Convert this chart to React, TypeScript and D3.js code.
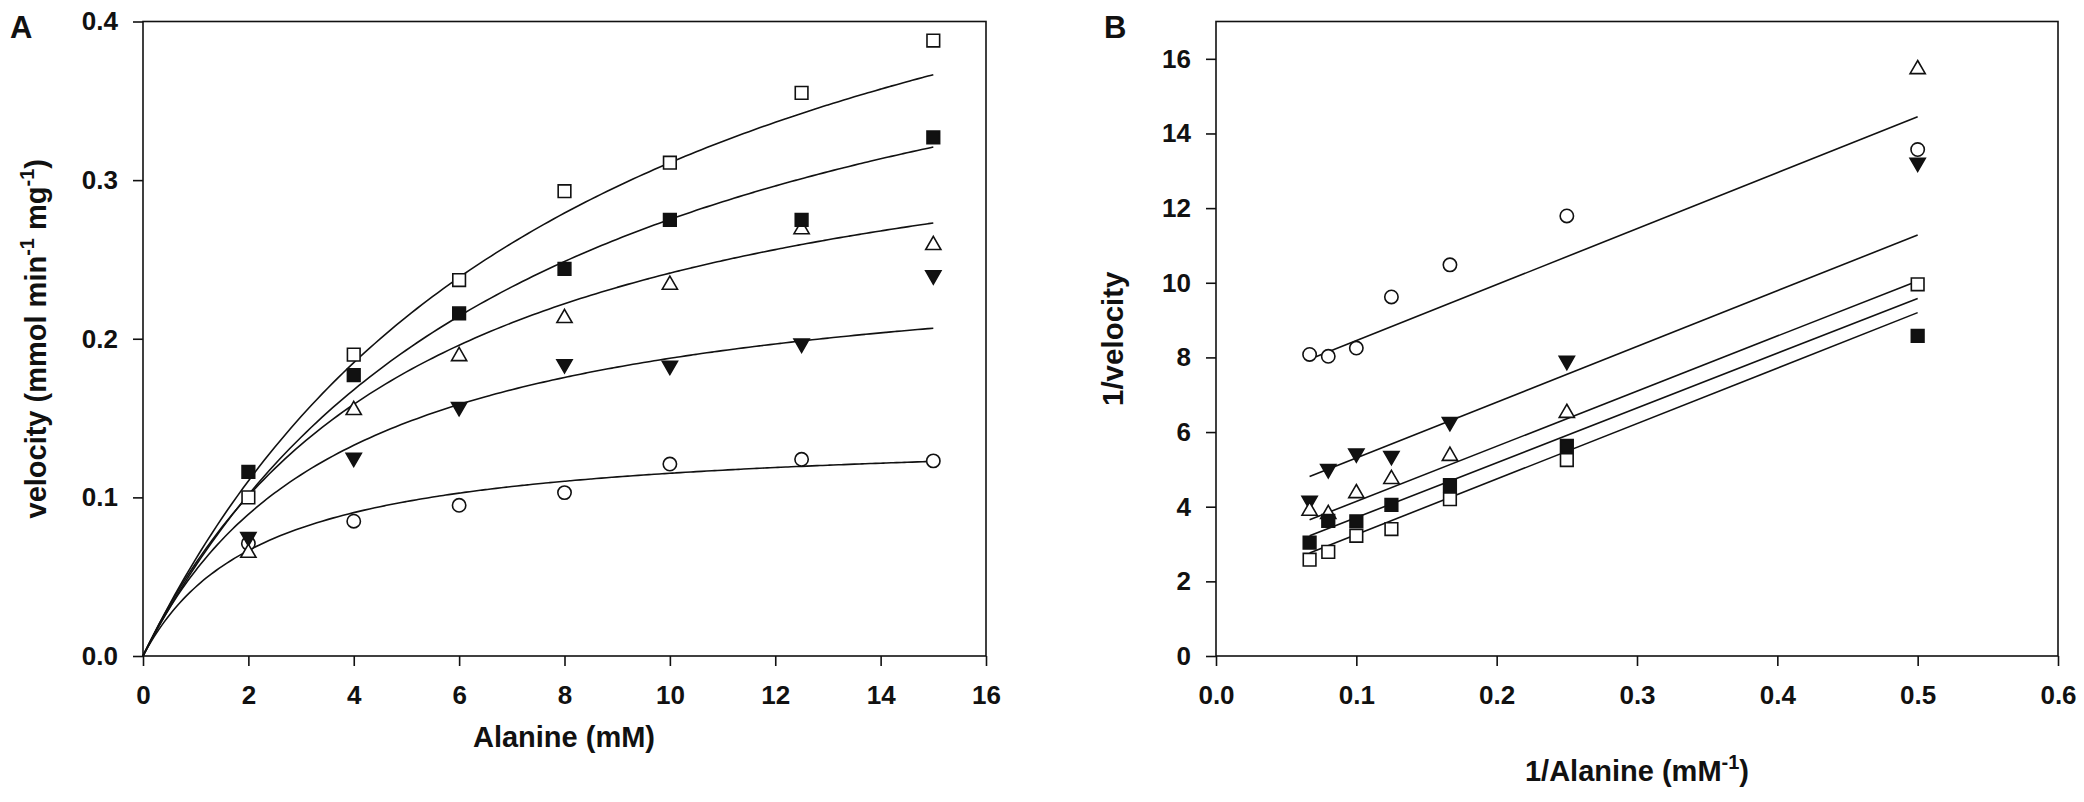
import React, { useEffect, useRef } from 'react'
import * as d3 from 'd3'

// alanine concentrations (mM) used in both panels
const alanine = [2, 4, 6, 8, 10, 12.5, 15]
const invAlanine = [0.0667, 0.08, 0.1, 0.125, 0.1667, 0.25, 0.5]

// panel A, velocity (mmol min-1 mg-1)
const velOpenSquare = [0.100, 0.190, 0.237, 0.293, 0.311, 0.355, 0.388]
const velFilledSquare = [0.116, 0.177, 0.216, 0.244, 0.275, 0.275, 0.327]
const velOpenTriangle = [0.065, 0.155, 0.189, 0.213, 0.234, 0.269, 0.259]
const velFilledTriangle = [0.075, 0.125, 0.157, 0.184, 0.183, 0.197, 0.240]
const velOpenCircle = [0.071, 0.085, 0.095, 0.103, 0.121, 0.124, 0.123]

// Michaelis-Menten fits: [Vmax, Km]
const fitOpenSquare = [0.570, 8.33]
const fitFilledSquare = [0.480, 7.44]
const fitOpenTriangle = [0.370, 5.33]
const fitFilledTriangle = [0.259, 3.8]
const fitOpenCircle = [0.141, 2.24]

// panel B, 1/velocity
const invOpenSquare = [2.58, 2.79, 3.22, 3.40, 4.20, 5.25, 9.96]
const invFilledSquare = [3.04, 3.62, 3.61, 4.05, 4.58, 5.63, 8.58]
const invOpenTriangle = [3.89, 3.80, 4.36, 4.74, 5.36, 6.51, 15.72]
const invFilledTriangle = [4.16, 5.01, 5.43, 5.36, 6.27, 7.91, 13.22]
const invOpenCircle = [8.08, 8.03, 8.25, 9.62, 10.48, 11.79, 13.57]

// regression lines, value at first and last 1/alanine
const lineOpenSquare = [2.76, 9.20]
const lineFilledSquare = [3.22, 9.58]
const lineOpenTriangle = [3.65, 10.05]
const lineFilledTriangle = [4.81, 11.28]
const lineOpenCircle = [7.95, 14.45]

const ticksAX = [0, 2, 4, 6, 8, 10, 12, 14, 16]
const ticksAY = [0, 0.1, 0.2, 0.3, 0.4]
const ticksBX = [0, 0.1, 0.2, 0.3, 0.4, 0.5, 0.6]
const ticksBY = [0, 2, 4, 6, 8, 10, 12, 14, 16]

type Marker = 'openSquare' | 'filledSquare' | 'openTriangle' | 'filledTriangle' | 'openCircle'

const seriesA: { marker: Marker, v: number[], fit: number[] }[] = [
    { marker: 'openSquare', v: velOpenSquare, fit: fitOpenSquare },
    { marker: 'filledSquare', v: velFilledSquare, fit: fitFilledSquare },
    { marker: 'openTriangle', v: velOpenTriangle, fit: fitOpenTriangle },
    { marker: 'filledTriangle', v: velFilledTriangle, fit: fitFilledTriangle },
    { marker: 'openCircle', v: velOpenCircle, fit: fitOpenCircle },
]

const seriesB: { marker: Marker, v: number[], line: number[] }[] = [
    { marker: 'openSquare', v: invOpenSquare, line: lineOpenSquare },
    { marker: 'filledSquare', v: invFilledSquare, line: lineFilledSquare },
    { marker: 'openTriangle', v: invOpenTriangle, line: lineOpenTriangle },
    { marker: 'filledTriangle', v: invFilledTriangle, line: lineFilledTriangle },
    { marker: 'openCircle', v: invOpenCircle, line: lineOpenCircle },
]

const FONT = '"Liberation Sans", Arial, Helvetica, sans-serif'
const INK = '#111'
const TOP = 21.5
const BOTTOM = 656

function markerPath(m: Marker): string {
    if (m === 'openSquare' || m === 'filledSquare') return d3.symbol(d3.symbolSquare, 160)() || ''
    if (m === 'openCircle') return d3.symbol(d3.symbolCircle, 140)() || ''
    return d3.symbol(d3.symbolTriangle, 100)() || ''
}

function drawMarkers(g: d3.Selection<SVGGElement, unknown, null, undefined>, m: Marker, pts: [number, number][]) {
    const filled = m === 'filledSquare' || m === 'filledTriangle'
    g.selectAll(null)
        .data(pts)
        .enter().append('path')
        .attr('d', markerPath(m))
        .attr('transform', d => `translate(${d[0]},${d[1]})` + (m === 'filledTriangle' ? ' rotate(180)' : ''))
        .attr('fill', filled ? INK : 'white')
        .attr('stroke', INK)
        .attr('stroke-width', 1.6)
}

function drawFrame(svg: d3.Selection<SVGGElement, unknown, null, undefined>,
    x: d3.ScaleLinear<number, number>, y: d3.ScaleLinear<number, number>,
    xt: number[], yt: number[], xf: string, yf: string) {
    const [x0, x1] = x.range()
    svg.append('rect')
        .attr('x', x0).attr('y', TOP)
        .attr('width', x1 - x0).attr('height', BOTTOM - TOP)
        .attr('fill', 'none').attr('stroke', INK).attr('stroke-width', 1.6)

    const ax = svg.append('g')
        .attr('transform', `translate(0,${BOTTOM})`)
        .call(d3.axisBottom(x).tickValues(xt).tickFormat(d3.format(xf)).tickSize(10).tickSizeOuter(0).tickPadding(20))
    const ay = svg.append('g')
        .attr('transform', `translate(${x0},0)`)
        .call(d3.axisLeft(y).tickValues(yt).tickFormat(d3.format(yf)).tickSize(10).tickSizeOuter(0).tickPadding(15))
    for (const a of [ax, ay]) {
        a.select('.domain').remove()
        a.selectAll('line').attr('stroke', INK).attr('stroke-width', 1.6)
        a.selectAll('text')
            .attr('fill', INK)
            .style('font-family', FONT)
            .style('font-weight', 'bold')
            .style('font-size', '26px')
    }
}

function App() {
    const ref = useRef<SVGGElement>(null)

    useEffect(() => {
        const svg = d3.select(ref.current as SVGGElement)
        svg.selectAll('*').remove()

        // ---- panel A: velocity vs alanine
        const xA = d3.scaleLinear().domain([0, 16]).range([143, 986])
        const yA = d3.scaleLinear().domain([0, 0.4]).range([BOTTOM, TOP])
        drawFrame(svg, xA, yA, ticksAX, ticksAY, 'd', '.1f')

        const gA = svg.append('g')
        const sGrid = d3.range(0, 15.001, 0.1)
        const curve = d3.line<number>()
            .x(s => xA(s))
            .curve(d3.curveMonotoneX)
        seriesA.forEach(s => {
            const [vmax, km] = s.fit
            gA.append('path')
                .attr('d', curve.y(t => yA(vmax * t / (km + t)))(sGrid))
                .attr('fill', 'none').attr('stroke', INK).attr('stroke-width', 1.6)
        })
        seriesA.slice().reverse().forEach(s => {
            drawMarkers(gA, s.marker, alanine.map((a, i) => [xA(a), yA(s.v[i])] as [number, number]))
        })

        // ---- panel B: Lineweaver-Burk
        const xB = d3.scaleLinear().domain([0, 0.6]).range([1216, 2058])
        const yB = d3.scaleLinear().domain([0, 17]).range([BOTTOM, TOP])
        drawFrame(svg, xB, yB, ticksBX, ticksBY, '.1f', 'd')

        const gB = svg.append('g')
        const xEnds = [invAlanine[0], invAlanine[invAlanine.length - 1]]
        seriesB.forEach(s => {
            gB.append('line')
                .attr('x1', xB(xEnds[0])).attr('y1', yB(s.line[0]))
                .attr('x2', xB(xEnds[1])).attr('y2', yB(s.line[1]))
                .attr('stroke', INK).attr('stroke-width', 1.6)
        })
        seriesB.slice().reverse().forEach(s => {
            drawMarkers(gB, s.marker, invAlanine.map((a, i) => [xB(a), yB(s.v[i])] as [number, number]))
        })
    }, [])

    const label = { fontFamily: FONT, fontWeight: 'bold' as const, fill: INK }

    return (
        <svg width={2084} height={802}
            style={{ position: 'absolute', left: 0, top: 0, background: 'white' }}>
            <g ref={ref} />
            <g>
                <text x={10} y={38} style={{ ...label, fontSize: 31 }}>A</text>
                <text x={1104} y={38} style={{ ...label, fontSize: 31 }}>B</text>
                <text x={564} y={747} textAnchor="middle" style={{ ...label, fontSize: 29 }}>Alanine (mM)</text>
                <text x={1637} y={781} textAnchor="middle" style={{ ...label, fontSize: 29 }}>
                    1/Alanine (mM<tspan dy={-12} fontSize={20}>-1</tspan><tspan dy={12}>)</tspan>
                </text>
                <text transform={`translate(46,${(TOP + BOTTOM) / 2}) rotate(-90)`} textAnchor="middle"
                    style={{ ...label, fontSize: 29 }}>
                    velocity (mmol min<tspan dy={-12} fontSize={20}>-1</tspan><tspan dy={12}> mg</tspan>
                    <tspan dy={-12} fontSize={20}>-1</tspan><tspan dy={12}>)</tspan>
                </text>
                <text transform={`translate(1123,${(TOP + BOTTOM) / 2}) rotate(-90)`} textAnchor="middle"
                    style={{ ...label, fontSize: 29.5 }}>1/velocity</text>
            </g>
        </svg>
    )
}

export default App
